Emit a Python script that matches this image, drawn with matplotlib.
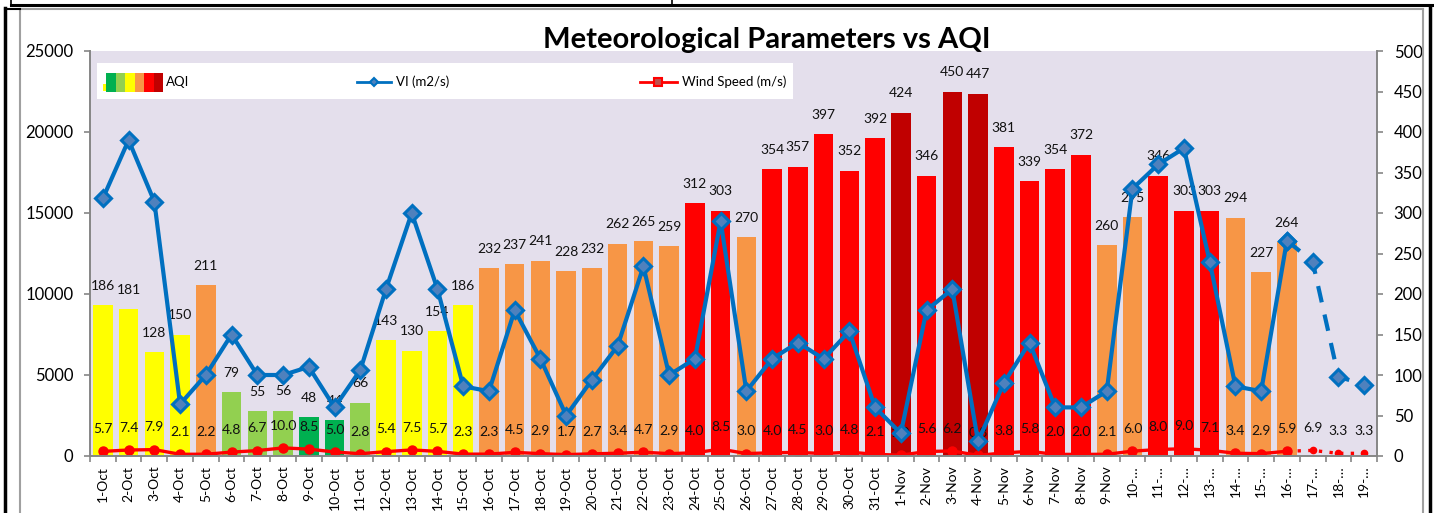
import numpy as np
import matplotlib
matplotlib.use('Agg')
import matplotlib.pyplot as plt
from matplotlib.lines import Line2D
from matplotlib.patches import Rectangle

plt.rcParams['font.family'] = ['Lato', 'DejaVu Sans']

dates = [f'{d}-Oct' for d in range(1, 32)] + [f'{d}-Nov' for d in range(1, 10)] + \
        [f'{d}-…' for d in range(10, 20)]

aqi = [186, 181, 128, 150, 211, 79, 55, 56, 48, 44, 66, 143, 130, 154, 186,
       232, 237, 241, 228, 232, 262, 265, 259, 312, 303, 270, 354, 357, 397, 352, 392,
       424, 346, 450, 447, 381, 339, 354, 372, 260, 295, 346, 303, 303, 294, 227, 264,
       np.nan, np.nan, np.nan]

vi = [15900, 19500, 15700, 3200, 5000, 7500, 5000, 5000, 5500, 3000, 5300, 10300, 15000,
      10300, 4300, 4000, 9000, 6000, 2500, 4700, 6800, 11700, 5000, 6000, 14500, 4000,
      6000, 7000, 6000, 7700, 3000, 1400, 9000, 10300, 900, 4500, 7000, 3000, 3000, 4000,
      16500, 18000, 19000, 12000, 4300, 4000, 13300, 12000, 4900, 4400]

wind = [5.7, 7.4, 7.9, 2.1, 2.2, 4.8, 6.7, 10.0, 8.5, 5.0, 2.8, 5.4, 7.5, 5.7, 2.3,
        2.3, 4.5, 2.9, 1.7, 2.7, 3.4, 4.7, 2.9, 4.0, 8.5, 3.0, 4.0, 4.5, 3.0, 4.8, 2.1,
        1.0, 5.6, 6.2, 0.8, 3.8, 5.8, 2.0, 2.0, 2.1, 6.0, 8.0, 9.0, 7.1, 3.4, 2.9, 5.9,
        6.9, 3.3, 3.3]

n_obs = 47  # observed days; the rest is forecast (dashed / dotted)

# AQI category colours
aqi_bounds = [50, 100, 200, 300, 400, 500]
aqi_colors = ['#00B050', '#92D050', '#FFFF00', '#F79646', '#FF0000', '#C00000']


def aqi_color(v):
    for b, c in zip(aqi_bounds, aqi_colors):
        if v <= b:
            return c
    return aqi_colors[-1]


W, H = 1434, 513
fig = plt.figure(figsize=(W / 100, H / 100), dpi=100)


def fx(px):
    return px / W


def fy(py):
    return 1 - py / H


ax = fig.add_axes([fx(90), fy(456), fx(1377) - fx(90), fy(51) - fy(456)])
ax2 = ax.twinx()
ax.set_zorder(ax2.get_zorder() + 1)
ax.patch.set_visible(False)
ax2.patch.set_visible(True)
ax2.patch.set_facecolor('#E4DFEC')

x = np.arange(len(dates))

# bars + wind on the right axis
bar_x = [i for i in x if not np.isnan(aqi[i])]
bar_h = [aqi[i] for i in bar_x]
ax2.bar(bar_x, bar_h, width=0.76, color=[aqi_color(v) for v in bar_h], zorder=2)
for i, v in zip(bar_x, bar_h):
    ax2.annotate(f'{v:.0f}', (i, v), xytext=(0, 14), textcoords='offset points',
                 ha='center', va='center', fontsize=10, color='#111111', zorder=5)

ax2.plot(x[:n_obs], wind[:n_obs], color='#FF0000', lw=2.4, marker='o', ms=6.5, zorder=3)
ax2.plot(x[n_obs - 1:], wind[n_obs - 1:], color='#FF0000', lw=2.4, ls=(0, (1, 2.2)),
         marker='o', ms=4.5, zorder=3)
for i, v in enumerate(wind):
    ax2.annotate(f'{v:.1f}', (i, v), xytext=(0, 16), textcoords='offset points',
                 ha='center', va='center', fontsize=10, color='#111111', zorder=5)

# VI on the left axis
kw = dict(color='#0070C0', lw=3, marker='D', ms=8.5, mfc='#4F81BD', mec='#0070C0', mew=2.2)
ax.plot(x[:n_obs], vi[:n_obs], **kw)
ax.plot(x[n_obs - 1:], vi[n_obs - 1:], ls=(0, (4, 3)), **kw)

ax.set_xlim(-0.5, len(dates) - 0.5)
ax2.set_xlim(-0.5, len(dates) - 0.5)
ax.set_ylim(0, 25000)
ax2.set_ylim(0, 500)
ax.set_yticks(np.arange(0, 25001, 5000))
ax2.set_yticks(np.arange(0, 501, 50))

gray = '#868686'
for s in ['top', 'right']:
    ax.spines[s].set_visible(False)
for s in ['top', 'left', 'bottom']:
    ax2.spines[s].set_visible(False)
ax.spines['left'].set_color(gray)
ax.spines['bottom'].set_color(gray)
ax2.spines['right'].set_color(gray)
for s in [ax.spines['left'], ax.spines['bottom'], ax2.spines['right']]:
    s.set_linewidth(1.4)

ax.tick_params(axis='y', length=4, color=gray, labelsize=12, pad=8, width=1.2)
ax2.tick_params(axis='y', length=4, color=gray, labelsize=12, pad=8, width=1.2)
ax.set_xticks(x)
ax.set_xticklabels(dates, rotation=90, fontsize=10)
ax.set_xticks(np.arange(-0.5, len(dates), 1), minor=True)
ax.tick_params(axis='x', which='major', length=0, pad=7)
ax.tick_params(axis='x', which='minor', length=4, color=gray, width=1.2)

# title
fig.text(fx(767), fy(40), 'Meteorological Parameters vs AQI', ha='center', va='center',
         fontsize=21, fontweight='bold', zorder=10)

# legend
tr = fig.transFigure
fig.add_artist(Rectangle((fx(97), fy(99)), fx(793) - fx(97), fy(63) - fy(99),
                         transform=tr, facecolor='white', edgecolor='none', zorder=10))
fig.add_artist(Rectangle((fx(103), fy(91)), fx(3), fy(84) - fy(91), transform=tr,
                         facecolor='#FFFF00', edgecolor='none', zorder=11))
seg_w = (163 - 106) / len(aqi_colors)
for k, c in enumerate(aqi_colors):
    fig.add_artist(Rectangle((fx(106 + k * seg_w), fy(92)), fx(seg_w), fy(73) - fy(92),
                             transform=tr, facecolor=c, edgecolor='none', zorder=11))
fig.text(fx(166), fy(82), 'AQI', ha='left', va='center', fontsize=9.5, zorder=12)

fig.add_artist(Line2D([fx(357), fx(391)], [fy(82), fy(82)], transform=tr, color='#0070C0',
                      lw=2, zorder=11))
fig.add_artist(Line2D([fx(374)], [fy(82)], transform=tr, marker='D', ms=4.5, mfc='#4F81BD',
                      mec='#0070C0', mew=1.5, zorder=12))
fig.text(fx(396), fy(82), 'VI (m2/s)', ha='left', va='center', fontsize=9.5, zorder=12)

fig.add_artist(Line2D([fx(640), fx(677)], [fy(82), fy(82)], transform=tr, color='#FF0000',
                      lw=2, zorder=11))
fig.add_artist(Line2D([fx(658)], [fy(82)], transform=tr, marker='s', ms=5.5, mfc='#C0504D',
                      mec='#FF0000', mew=1.5, zorder=12))
fig.text(fx(682), fy(82), 'Wind Speed (m/s)', ha='left', va='center', fontsize=9.5, zorder=12)

# chart border / page frame
for xs, ys, c, lw in [
    ([20, 20], [9, 513], '#A0A0A0', 1.5),
    ([1423, 1423], [9, 513], '#A0A0A0', 1.5),
    ([20, 1423], [9, 9], '#A0A0A0', 1.5),
    ([11, 1434], [5, 5], 'black', 2.2),
    ([11, 11], [0, 5], 'black', 1.2),
    ([672, 672], [0, 5], 'black', 1.2),
    ([5, 5], [8, 513], 'black', 2.5),
    ([5, 20], [9, 9], 'black', 1.5),
    ([1430, 1430], [6, 513], 'black', 2.5),
]:
    fig.add_artist(Line2D([fx(v) for v in xs], [fy(v) for v in ys], transform=tr,
                          color=c, lw=lw, zorder=12))

fig.savefig('out.png', dpi=100)
